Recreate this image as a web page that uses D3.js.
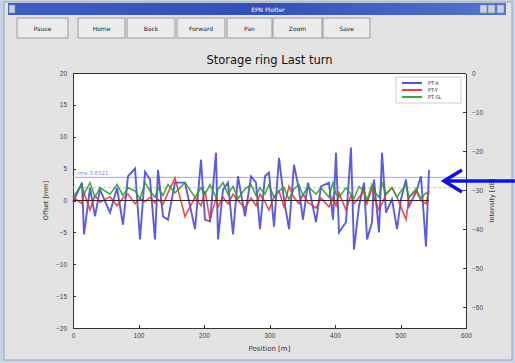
<!DOCTYPE html>
<meta charset="utf-8">
<style>

body {
  margin: 0;
  background: #c9d3e8;
  font-family: "DejaVu Sans", sans-serif;
}

.axis path,
.axis line {
  fill: none;
  stroke: #333;
  shape-rendering: crispEdges;
}

.axis text {
  font-size: 6.5px;
  fill: #444;
}

.btn text {
  font-size: 6px;
  fill: #222;
}

</style>
<body>
<script src="https://d3js.org/d3.v7.min.js"></script>
<script>

// BPM positions [m] and readings [mm]
var positions = [0, 13.7, 16.8, 26, 33.6, 41.2, 56.5, 67.2, 76.3, 84,
  94.7, 102.3, 110, 117.6, 125.2, 129.8, 137.4, 145, 155.7, 171,
  186.3, 195.4, 201.5, 209.2, 218.3, 221.4, 229, 236.6, 244.3, 251.9,
  262.6, 271.8, 279.4, 285.5, 293.1, 299.2, 306.9, 314.5, 322.1, 329.8,
  337.4, 345, 351.1, 358.8, 371, 378.6, 390.8, 397, 401.5, 406.1,
  416.8, 424.4, 429, 436.6, 444.3, 448.9, 456.5, 459.5, 467.2, 471.8,
  477.9, 487, 494.7, 500.8, 508.4, 513, 523.7, 531.3, 538.9, 543.5];

var ptX = [-0.3, 2.8, -5.3, 2.0, -2.5, 1.7, -1.9, 2.0, -3.8, 3.8,
  5.0, -6.1, 4.5, 3.3, -6.1, 4.8, -2.5, -3.0, 2.8, 2.8,
  -4.5, 6.4, -3.0, -3.3, 7.5, -6.1, 1.7, 2.8, -5.3, 3.8,
  -2.5, 3.8, 2.8, -4.5, 3.8, 4.4, -4.1, 6.7, 0.2, -4.5,
  5.6, 1.7, -3.0, 2.8, -3.4, 2.2, 2.8, -3.0, 7.5, -5.0,
  -3.4, 8.3, -7.7, -0.9, 2.8, -6.1, -3.4, 3.3, -5.0, 7.5,
  -1.9, 0.2, -4.5, 0.2, 3.3, -0.9, 1.3, 3.8, -7.2, 4.8];

var ptY = [0.5, -0.5, 1.2, -1.5, 0.8, -0.3, 0.6, -0.8, 0.4, 1.0,
  -0.5, 0.3, -0.2, 0.5, -0.4, 0.2, -0.6, 1.2, 3.5, -2.5,
  0.5, -0.8, 1.5, -3.0, 0.3, -1.0, 0.5, -0.5, 1.0, 0.0,
  -1.2, 0.4, -0.8, 1.0, -0.2, -1.5, 0.5, 1.5, -1.0, 2.2,
  0.5, -0.5, 1.0, -0.3, -1.2, 0.4, -1.0, 0.5, -0.8, 1.2,
  -1.5, 0.8, -0.5, 0.5, 1.5, -0.5, 2.0, 0.5, -1.5, -0.5,
  1.0, 2.0, 0.5, -1.0, -3.0, 0.5, 1.5, 0.0, -0.5, 1.5];

var ptSL = [0.5, 2.5, 1.0, 2.8, 0.5, 2.0, 1.0, 2.5, 0.8, 2.0,
  1.5, 0.3, 2.8, 1.5, 0.5, 2.0, 0.8, 2.5, 1.2, 2.8,
  0.5, 2.0, 1.0, 2.5, 0.5, 1.8, 2.8, 1.0, 2.2, 0.3,
  1.8, 2.5, 0.8, 2.0, 1.0, 2.5, 0.5, 1.5, 2.0, 0.2,
  1.8, 2.5, 0.8, 2.2, 1.0, 2.0, 0.5, 2.8, 1.0, 0.5,
  2.0, 1.0, 0.3, 2.2, 1.5, 0.0, 2.5, 1.5, 0.5, 2.8,
  1.0, 2.0, 0.5, 1.5, 2.5, 0.5, 1.8, 0.3, 1.2, 0.8];

var seriesNames = ["PT-X", "PT-Y", "PT-SL"];
var seriesColors = ["#4040dc", "#e03030", "#2a9a2a"];
var buttons = ["Pause", "Home", "Back", "Forward", "Pan", "Zoom", "Save"];
var rmsX = 3.6321, rmsY = 2.0;

var W = 515, H = 363;
var margin = {top: 73, right: 49, bottom: 35, left: 73},
    width = 466 - margin.left,
    height = 328 - margin.top;

var svg = d3.select("body").append("svg")
    .attr("width", W)
    .attr("height", H);

// window chrome
svg.append("rect").attr("x", 4).attr("y", 2).attr("width", 508).attr("height", 358)
    .attr("fill", "#e3e3e3").attr("stroke", "#9aa4b8");
var grad = svg.append("defs").append("linearGradient").attr("id", "tb");
grad.append("stop").attr("offset", "0%").attr("stop-color", "#3d5ec4");
grad.append("stop").attr("offset", "50%").attr("stop-color", "#3050b8");
grad.append("stop").attr("offset", "100%").attr("stop-color", "#5574cc");
svg.append("rect").attr("x", 8).attr("y", 3).attr("width", 498).attr("height", 12)
    .attr("fill", "url(#tb)");
svg.append("text").attr("x", 268).attr("y", 12).attr("text-anchor", "middle")
    .style("font-size", "6px").style("fill", "#fff").text("EPN Plotter");
[480, 488, 497].forEach(function(bx) {
  svg.append("rect").attr("x", bx).attr("y", 5).attr("width", 7).attr("height", 8)
      .attr("fill", "#c8d0e4").attr("stroke", "#7080a8").attr("stroke-width", 0.5);
});
svg.append("rect").attr("x", 9).attr("y", 5).attr("width", 6).attr("height", 8)
    .attr("fill", "#c8d0e4").attr("stroke", "#7080a8").attr("stroke-width", 0.5);

var btnX = [17, 78, 127, 177, 227, 273, 323],
    btnW = [51, 47, 48, 48, 45, 49, 47];
var btn = svg.selectAll(".btn")
    .data(buttons)
  .enter().append("g")
    .attr("class", "btn")
    .attr("transform", function(d, i) { return "translate(" + btnX[i] + ",18)"; });
btn.append("rect")
    .attr("width", function(d, i) { return btnW[i]; })
    .attr("height", 20)
    .attr("fill", "#ebebeb")
    .attr("stroke", "#8a8a8a")
    .attr("stroke-width", 0.8);
btn.append("text")
    .attr("x", function(d, i) { return btnW[i] / 2; })
    .attr("y", 12.5)
    .attr("text-anchor", "middle")
    .text(function(d) { return d; });

var g = svg.append("g")
    .attr("transform", "translate(" + margin.left + "," + margin.top + ")");

var x = d3.scaleLinear().domain([0, 600]).range([0, width]);
var y = d3.scaleLinear().domain([-20, 20]).range([height, 0]);
var y2 = d3.scaleLinear().domain([-65.4, 0]).range([height, 0]);

g.append("rect").attr("width", width).attr("height", height).attr("fill", "#fff");

g.append("g")
    .attr("class", "x axis")
    .attr("transform", "translate(0," + height + ")")
    .call(d3.axisBottom(x).tickValues(d3.range(0, 601, 100)).tickSize(-3).tickPadding(5).tickSizeOuter(0));
g.append("g")
    .attr("class", "y axis")
    .call(d3.axisLeft(y).tickValues(d3.range(-20, 21, 5)).tickSize(-3).tickPadding(6).tickSizeOuter(0));
g.append("g")
    .attr("class", "y axis")
    .attr("transform", "translate(" + width + ",0)")
    .call(d3.axisRight(y2).tickValues(d3.range(-60, 1, 10)).tickSize(-3).tickPadding(6).tickSizeOuter(0));
g.append("line").attr("x1", 0).attr("x2", width).attr("y1", 0).attr("y2", 0)
    .attr("stroke", "#333").attr("shape-rendering", "crispEdges");

// rms reference lines
g.append("line")
    .attr("x1", 0).attr("x2", width)
    .attr("y1", y(rmsX)).attr("y2", y(rmsX))
    .attr("stroke", "#a4a4ec").attr("stroke-width", 1);
g.append("text")
    .attr("x", 4).attr("y", y(rmsX) - 2)
    .style("font-size", "5.5px").style("fill", "#8080e0")
    .text("rms 3.6321");
g.append("line")
    .attr("x1", 0).attr("x2", x(585))
    .attr("y1", y(rmsY)).attr("y2", y(rmsY))
    .attr("stroke", "#f0a8b0").attr("stroke-width", 1).attr("stroke-dasharray", "3,2");

var line = d3.line()
    .x(function(d, i) { return x(positions[i]); })
    .y(function(d) { return y(d); });

g.append("path").datum(ptX)
    .attr("fill", "none").attr("stroke", seriesColors[0]).attr("stroke-width", 1.9)
    .attr("stroke-opacity", 0.85).attr("d", line);
g.append("path").datum(ptY)
    .attr("fill", "none").attr("stroke", seriesColors[1]).attr("stroke-width", 1.6)
    .attr("stroke-opacity", 0.85).attr("d", line);
g.append("path").datum(ptSL)
    .attr("fill", "none").attr("stroke", seriesColors[2]).attr("stroke-width", 1.6)
    .attr("stroke-opacity", 0.85).attr("d", line);

// zero line over data range
g.append("line")
    .attr("x1", x(0)).attr("x2", x(positions[positions.length - 1]))
    .attr("y1", y(0)).attr("y2", y(0))
    .attr("stroke", "#402020").attr("stroke-width", 1);

// legend
var lg = g.append("g").attr("transform", "translate(" + (width - 70) + ",4)");
lg.append("rect").attr("width", 65).attr("height", 26)
    .attr("fill", "#fff").attr("stroke", "#aaa").attr("stroke-width", 0.6);
var legend = lg.selectAll(".legend")
    .data(seriesNames)
  .enter().append("g")
    .attr("class", "legend")
    .attr("transform", function(d, i) { return "translate(0," + (6 + i * 7) + ")"; });
legend.append("line")
    .attr("x1", 6).attr("x2", 26)
    .attr("stroke", function(d, i) { return seriesColors[i]; })
    .attr("stroke-width", 1.8);
legend.append("text")
    .attr("x", 32).attr("dy", "0.35em")
    .style("font-size", "5px").style("fill", "#333")
    .text(function(d) { return d; });

// titles
svg.append("text")
    .attr("x", margin.left + width / 2).attr("y", 64)
    .attr("text-anchor", "middle")
    .style("font-size", "11.5px").style("fill", "#111")
    .text("Storage ring Last turn");
svg.append("text")
    .attr("text-anchor", "middle")
    .attr("transform", "translate(48," + (margin.top + height / 2) + ")rotate(-90)")
    .style("font-size", "6.5px").style("fill", "#333")
    .text("Offset [mm]");
svg.append("text")
    .attr("text-anchor", "middle")
    .attr("transform", "translate(494," + (margin.top + height / 2) + ")rotate(-90)")
    .style("font-size", "6.5px").style("fill", "#333")
    .text("Intensity [dB]");
svg.append("text")
    .attr("x", margin.left + width / 2).attr("y", 351)
    .attr("text-anchor", "middle")
    .style("font-size", "7px").style("fill", "#333")
    .text("Position [m]");

// annotation arrow
svg.append("path")
    .attr("d", "M515,181 L444,181 M462,170 L444,181 L462,192")
    .attr("fill", "none").attr("stroke", "#1010e0").attr("stroke-width", 3.5)
    .attr("stroke-linejoin", "miter");

</script>
